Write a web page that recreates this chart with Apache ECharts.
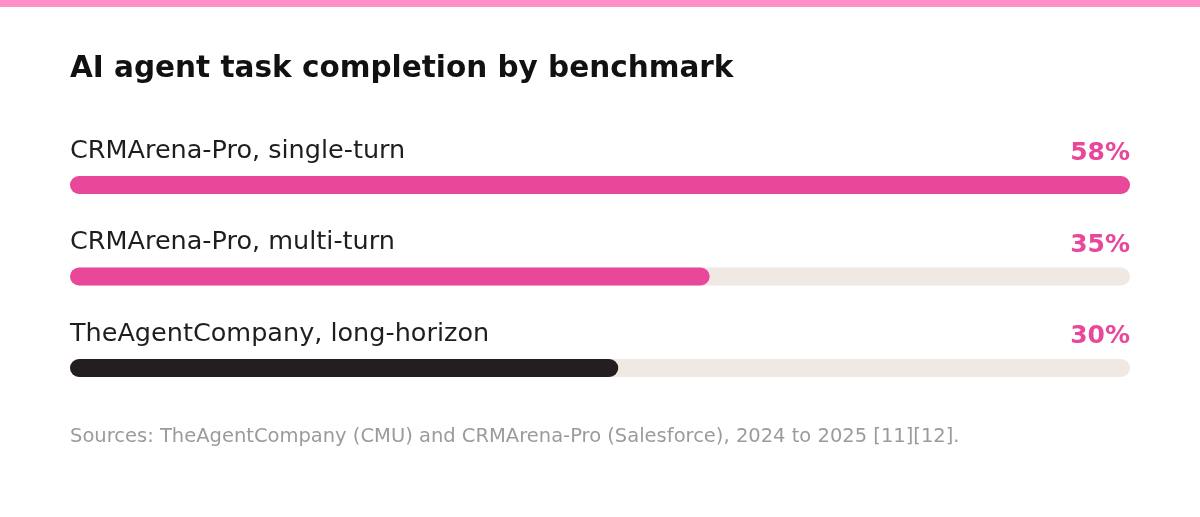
<!DOCTYPE html>
<html><head><meta charset="utf-8">
<script src="https://cdn.jsdelivr.net/npm/echarts@6/dist/echarts.min.js"></script>
<style>html,body{margin:0;padding:0;background:#fff}#c{width:1200px;height:517px}</style>
</head><body><div id="c"></div>
<script>
const categories = ['CRMArena-Pro, single-turn', 'CRMArena-Pro, multi-turn', 'TheAgentCompany, long-horizon'];
const values = [58, 35, 30];
const barColors = ['#e8479a', '#e8479a', '#231f20'];
const labelColors = ['#e8479a', '#e8479a', '#e8479a'];
const titleText = 'AI agent task completion by benchmark';
const sourceText = 'Sources: TheAgentCompany (CMU) and CRMArena-Pro (Salesforce), 2024 to 2025 [11][12].';
const FONT = 'DejaVu Sans';

const chart = echarts.init(document.getElementById('c'));
chart.setOption({
  backgroundColor: '#fff',
  animation: false,
  textStyle: { fontFamily: FONT },
  graphic: [{ type: 'rect', left: 0, top: 0, shape: { width: 1200, height: 7 }, style: { fill: '#ff8fc8' } }],
  title: [
    { text: titleText, left: 70, top: 54, padding: 0, textStyle: { fontFamily: FONT, fontSize: 29.5, fontWeight: 'bold', color: '#111' } },
    { text: sourceText, left: 70, top: 427, padding: 0, textStyle: { fontFamily: FONT, fontSize: 19.5, fontWeight: 'normal', color: '#9b9b9b' } }
  ],
  grid: { left: 70, right: 70, top: 139.25, bottom: 103.25, containLabel: false },
  xAxis: { type: 'value', min: 0, max: Math.max(...values), show: false },
  yAxis: [
    { type: 'category', data: categories, inverse: true, axisLine: { show: false }, axisTick: { show: false },
      axisLabel: { inside: true, margin: 0, verticalAlign: 'bottom', padding: [0, 0, 21, 0], fontSize: 25.5, fontWeight: 500, color: '#1e1e1e', fontFamily: FONT } },
    { type: 'category', data: values.map(v => v + '%'), inverse: true, position: 'right', axisLine: { show: false }, axisTick: { show: false },
      axisLabel: { inside: true, margin: 0, verticalAlign: 'bottom', padding: [0, 0, 19, 0], fontSize: 25, fontWeight: 'bold', fontFamily: FONT,
        color: (v, i) => labelColors[i] } }
  ],
  series: [{
    type: 'bar', data: values.map((v, i) => ({ value: v, itemStyle: { color: barColors[i] } })),
    barWidth: 18, itemStyle: { borderRadius: 9 },
    showBackground: true, backgroundStyle: { color: '#f0e8e2', borderRadius: 9 }
  }]
});
</script></body></html>
